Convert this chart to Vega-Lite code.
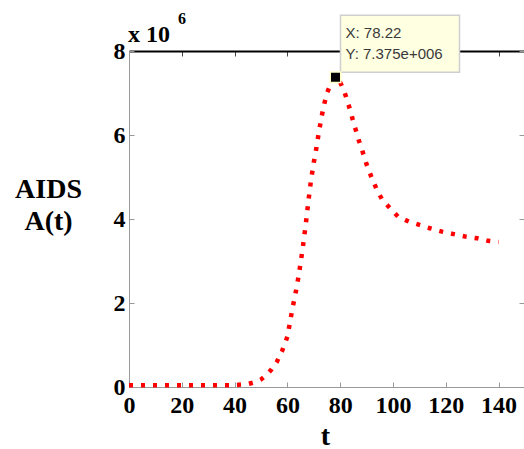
{
  "$schema": "https://vega.github.io/schema/vega-lite/v6.json",
  "width": 396,
  "height": 336,
  "autosize": "none",
  "padding": {"left": 129, "top": 51, "right": 0, "bottom": 62},
  "background": "white",
  "config": {
    "view": {"stroke": null},
    "axis": {"grid": false, "zindex": 0}
  },
  "datasets": {
    "aids": [
      {"t": 0, "A": 40000}, {"t": 10, "A": 40000}, {"t": 20, "A": 40000}, {"t": 30, "A": 40000},
      {"t": 40, "A": 45000}, {"t": 45, "A": 70000}, {"t": 48, "A": 120000}, {"t": 50, "A": 180000},
      {"t": 52, "A": 280000}, {"t": 54, "A": 420000}, {"t": 56, "A": 600000}, {"t": 58, "A": 860000},
      {"t": 60, "A": 1200000}, {"t": 61, "A": 1550000}, {"t": 62, "A": 1900000}, {"t": 63, "A": 2200000},
      {"t": 64, "A": 2550000}, {"t": 65, "A": 2950000}, {"t": 66, "A": 3400000}, {"t": 67, "A": 3900000},
      {"t": 68, "A": 4450000}, {"t": 69, "A": 4950000}, {"t": 70, "A": 5350000}, {"t": 71, "A": 5700000},
      {"t": 72, "A": 6100000}, {"t": 73, "A": 6450000}, {"t": 74, "A": 6750000}, {"t": 75, "A": 7000000},
      {"t": 76, "A": 7150000}, {"t": 77, "A": 7300000}, {"t": 78.22, "A": 7375000}, {"t": 80, "A": 7250000},
      {"t": 81, "A": 7120000}, {"t": 82, "A": 6950000}, {"t": 83, "A": 6750000}, {"t": 84, "A": 6550000},
      {"t": 85, "A": 6300000}, {"t": 86, "A": 6100000}, {"t": 87, "A": 5880000}, {"t": 88, "A": 5700000},
      {"t": 89, "A": 5500000}, {"t": 90, "A": 5300000}, {"t": 92, "A": 4970000}, {"t": 94, "A": 4680000},
      {"t": 96, "A": 4450000}, {"t": 99, "A": 4250000}, {"t": 102, "A": 4050000}, {"t": 106, "A": 3940000},
      {"t": 110, "A": 3860000}, {"t": 114, "A": 3780000}, {"t": 118.6, "A": 3700000}, {"t": 123, "A": 3640000},
      {"t": 127.5, "A": 3580000}, {"t": 132, "A": 3540000}, {"t": 136, "A": 3480000}, {"t": 140, "A": 3450000}
    ],
    "tip": [{"t": 78.22, "A": 7375000}]
  },
  "resolve": {"axis": {"x": "independent", "y": "independent"}},
  "layer": [
    {
      "data": {"name": "aids"},
      "mark": {"type": "line", "color": "#ff0000", "strokeWidth": 4.5, "strokeDash": [4, 8], "strokeCap": "butt"},
      "encoding": {
        "x": {
          "field": "t", "type": "quantitative",
          "scale": {"domain": [0, 150], "nice": false, "zero": false},
          "axis": {
            "orient": "bottom", "values": [0, 20, 40, 60, 80, 100, 120, 140],
            "domainColor": "#999999", "domainWidth": 1, "tickColor": "#999999", "tickSize": -5,
            "labelPadding": 11, "labelFlush": false,
            "labelFont": "Liberation Serif", "labelFontWeight": "bold", "labelFontSize": 24, "labelColor": "black",
            "title": "t", "titleFont": "Liberation Serif", "titleFontWeight": "bold", "titleColor": "black",
            "titleFontSize": 28, "titleX": 196, "titleY": 57, "titleBaseline": "alphabetic", "titleAlign": "center"
          }
        },
        "y": {
          "field": "A", "type": "quantitative",
          "scale": {"domain": [0, 8000000], "nice": false},
          "axis": {
            "orient": "left", "values": [0, 2000000, 4000000, 6000000, 8000000],
            "labelExpr": "datum.value / 1000000",
            "domainColor": "#999999", "domainWidth": 1, "tickColor": "#999999", "tickSize": -5,
            "labelPadding": 9, "labelFlush": false, "labelBaseline": "middle",
            "labelFont": "Liberation Serif", "labelFontWeight": "bold", "labelFontSize": 24, "labelColor": "black",
            "title": ["AIDS", "A(t)"], "titleFont": "Liberation Serif", "titleFontWeight": "bold", "titleColor": "black",
            "titleAngle": 0, "titleFontSize": 28, "titleLineHeight": 32,
            "titleX": -81, "titleY": 146, "titleAlign": "center", "titleBaseline": "alphabetic"
          }
        }
      }
    },
    {
      "data": {"name": "tip"},
      "mark": {"type": "point", "shape": "M 5 -62 L 124 -62 L 124 -5 L 5 -5 Z", "size": 4, "filled": true, "fill": "#ffffe1", "stroke": "#cfcfcf", "strokeWidth": 1.5, "opacity": 1},
      "encoding": {
        "x": {
          "field": "t", "type": "quantitative",
          "axis": {
            "orient": "top", "values": [0, 20, 40, 60, 80, 100, 120, 140],
            "domainColor": "black", "domainWidth": 2, "tickColor": "#444444", "tickSize": -5,
            "labels": false, "title": null
          }
        },
        "y": {
          "field": "A", "type": "quantitative",
          "axis": {
            "orient": "right", "values": [0, 2000000, 4000000, 6000000, 8000000],
            "domain": false, "tickColor": "#999999", "tickSize": -5, "offset": -1,
            "labels": false, "title": null
          }
        }
      }
    },
    {
      "data": {"name": "tip"},
      "mark": {"type": "point", "shape": "square", "size": 110, "filled": true, "fill": "black", "stroke": "#ffffc8", "strokeWidth": 1.5, "opacity": 1},
      "encoding": {
        "x": {"field": "t", "type": "quantitative", "axis": null},
        "y": {"field": "A", "type": "quantitative", "axis": null}
      }
    },
    {
      "data": {"name": "tip"},
      "mark": {"type": "text", "align": "left", "baseline": "alphabetic", "dx": 10, "dy": -39, "font": "Liberation Sans", "fontSize": 15, "color": "#3a3a3a"},
      "encoding": {
        "x": {"field": "t", "type": "quantitative", "axis": null},
        "y": {"field": "A", "type": "quantitative", "axis": null},
        "text": {"value": "X: 78.22"}
      }
    },
    {
      "data": {"name": "tip"},
      "mark": {"type": "text", "align": "left", "baseline": "alphabetic", "dx": 10, "dy": -18, "font": "Liberation Sans", "fontSize": 15, "color": "#3a3a3a"},
      "encoding": {
        "x": {"field": "t", "type": "quantitative", "axis": null},
        "y": {"field": "A", "type": "quantitative", "axis": null},
        "text": {"value": "Y: 7.375e+006"}
      }
    },
    {
      "data": {"values": [{}]},
      "mark": {"type": "text", "align": "left", "baseline": "alphabetic", "dx": -1, "dy": -9, "font": "Liberation Serif", "fontWeight": "bold", "fontSize": 24, "color": "black"},
      "encoding": {
        "x": {"datum": 0, "type": "quantitative", "axis": null},
        "y": {"datum": 8000000, "type": "quantitative", "axis": null},
        "text": {"value": "x 10"}
      }
    },
    {
      "data": {"values": [{}]},
      "mark": {"type": "text", "align": "left", "baseline": "alphabetic", "dx": 49, "dy": -27, "font": "Liberation Serif", "fontWeight": "bold", "fontSize": 16, "color": "black"},
      "encoding": {
        "x": {"datum": 0, "type": "quantitative", "axis": null},
        "y": {"datum": 8000000, "type": "quantitative", "axis": null},
        "text": {"value": "6"}
      }
    }
  ]
}
